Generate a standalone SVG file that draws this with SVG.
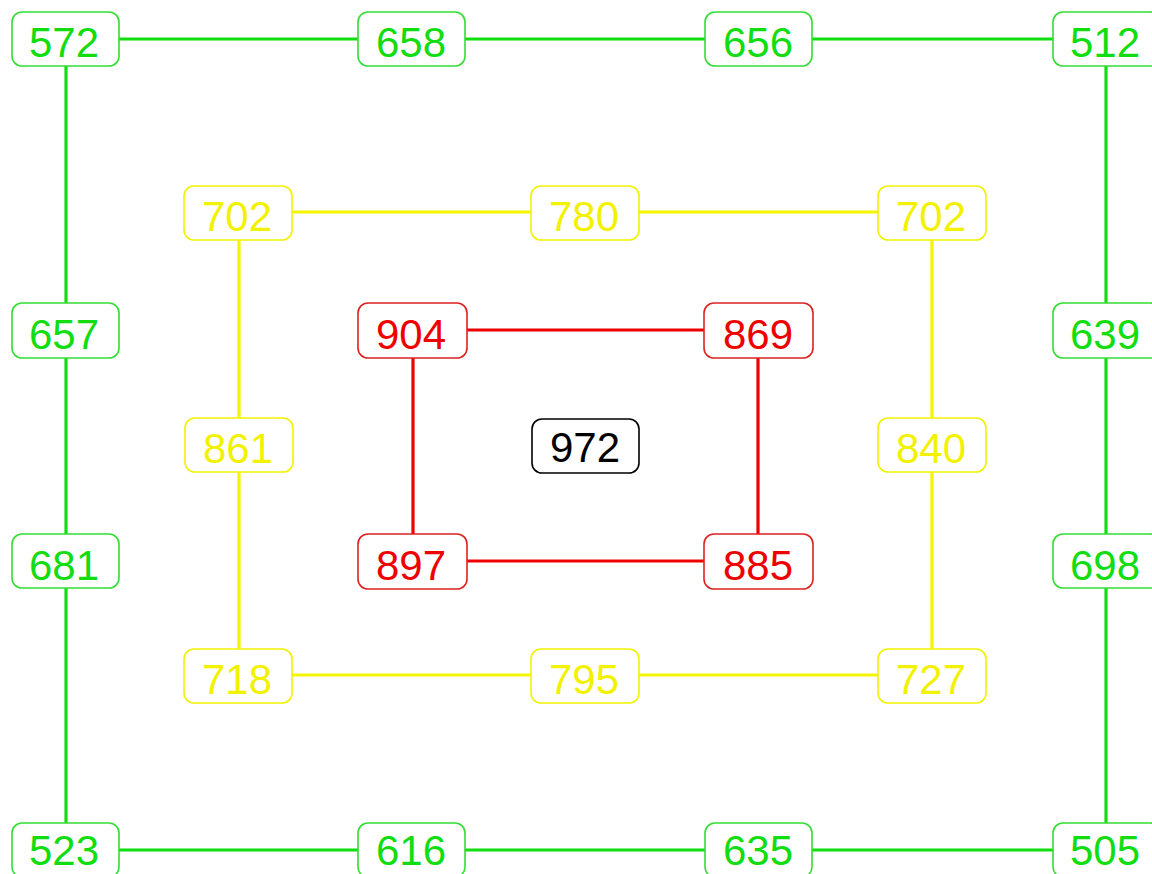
<svg xmlns="http://www.w3.org/2000/svg" width="1152" height="874" viewBox="0 0 1152 874">
<style>
.b{fill:#fff;stroke-width:1.6}
.t{font-family:"Liberation Sans",Arial,sans-serif;font-size:42px;text-anchor:middle}
.g .b{stroke:#33dd33}.g .t{fill:#11dd11}
.y .b{stroke:#f2f200}.y .t{fill:#f2f200}
.r .b{stroke:#dd2222}.r .t{fill:#ee0000}
.k .b{stroke:#000}.k .t{fill:#000}
#edges line{stroke-width:3.2}
.eg{stroke:#11dd11}.ey{stroke:#f5f500}.er{stroke:#ee0000}
</style>
<rect width="1152" height="874" fill="#fff"/>
<g id="edges">
<line class="eg" x1="65" y1="39" x2="1106" y2="39"/>
<line class="eg" x1="65" y1="850" x2="1106" y2="850"/>
<line class="eg" x1="66" y1="39" x2="66" y2="850"/>
<line class="eg" x1="1106" y1="39" x2="1106" y2="850"/>
<line class="ey" x1="238" y1="212" x2="932" y2="212"/>
<line class="ey" x1="238" y1="675" x2="932" y2="675"/>
<line class="ey" x1="239" y1="212" x2="239" y2="675"/>
<line class="ey" x1="932" y1="212" x2="932" y2="675"/>
<line class="er" x1="412" y1="330" x2="759" y2="330"/>
<line class="er" x1="412" y1="561" x2="759" y2="561"/>
<line class="er" x1="413" y1="330" x2="413" y2="561"/>
<line class="er" x1="758" y1="330" x2="758" y2="561"/>
</g>
<g id="n572" class="g"><rect class="b" x="12" y="12" width="107" height="54" rx="10"/><text class="t" x="64" y="57">572</text></g>
<g id="n658" class="g"><rect class="b" x="358" y="12" width="107" height="54" rx="10"/><text class="t" x="411" y="57">658</text></g>
<g id="n656" class="g"><rect class="b" x="705" y="12" width="107" height="54" rx="10"/><text class="t" x="758" y="57">656</text></g>
<g id="n512" class="g"><rect class="b" x="1053" y="12" width="107" height="54" rx="10"/><text class="t" x="1105" y="57">512</text></g>
<g id="n657" class="g"><rect class="b" x="12" y="303" width="107" height="55" rx="10"/><text class="t" x="64" y="349">657</text></g>
<g id="n639" class="g"><rect class="b" x="1053" y="303" width="107" height="55" rx="10"/><text class="t" x="1105" y="349">639</text></g>
<g id="n681" class="g"><rect class="b" x="12" y="534" width="107" height="54" rx="10"/><text class="t" x="64" y="580">681</text></g>
<g id="n698" class="g"><rect class="b" x="1053" y="534" width="107" height="54" rx="10"/><text class="t" x="1105" y="580">698</text></g>
<g id="n523" class="g"><rect class="b" x="12" y="823" width="107" height="54" rx="10"/><text class="t" x="64" y="865">523</text></g>
<g id="n616" class="g"><rect class="b" x="358" y="823" width="107" height="54" rx="10"/><text class="t" x="411" y="865">616</text></g>
<g id="n635" class="g"><rect class="b" x="705" y="823" width="107" height="54" rx="10"/><text class="t" x="758" y="865">635</text></g>
<g id="n505" class="g"><rect class="b" x="1053" y="823" width="107" height="54" rx="10"/><text class="t" x="1105" y="865">505</text></g>
<g id="n702a" class="y"><rect class="b" x="184" y="186" width="108" height="54" rx="10"/><text class="t" x="237" y="231">702</text></g>
<g id="n780" class="y"><rect class="b" x="531" y="186" width="108" height="54" rx="10"/><text class="t" x="584" y="231">780</text></g>
<g id="n702b" class="y"><rect class="b" x="878" y="186" width="108" height="54" rx="10"/><text class="t" x="931" y="231">702</text></g>
<g id="n861" class="y"><rect class="b" x="185" y="418" width="108" height="54" rx="10"/><text class="t" x="238" y="463">861</text></g>
<g id="n840" class="y"><rect class="b" x="878" y="418" width="108" height="54" rx="10"/><text class="t" x="931" y="463">840</text></g>
<g id="n718" class="y"><rect class="b" x="184" y="649" width="108" height="54" rx="10"/><text class="t" x="237" y="694">718</text></g>
<g id="n795" class="y"><rect class="b" x="531" y="649" width="108" height="54" rx="10"/><text class="t" x="584" y="694">795</text></g>
<g id="n727" class="y"><rect class="b" x="878" y="649" width="108" height="54" rx="10"/><text class="t" x="931" y="694">727</text></g>
<g id="n904" class="r"><rect class="b" x="358" y="303" width="109" height="55" rx="10"/><text class="t" x="411" y="349">904</text></g>
<g id="n869" class="r"><rect class="b" x="704" y="303" width="109" height="55" rx="10"/><text class="t" x="758" y="349">869</text></g>
<g id="n897" class="r"><rect class="b" x="358" y="534" width="109" height="55" rx="10"/><text class="t" x="411" y="580">897</text></g>
<g id="n885" class="r"><rect class="b" x="704" y="534" width="109" height="55" rx="10"/><text class="t" x="758" y="580">885</text></g>
<g id="n972" class="k"><rect class="b" x="532" y="419" width="107" height="54" rx="10"/><text class="t" x="585" y="462">972</text></g>
</svg>
